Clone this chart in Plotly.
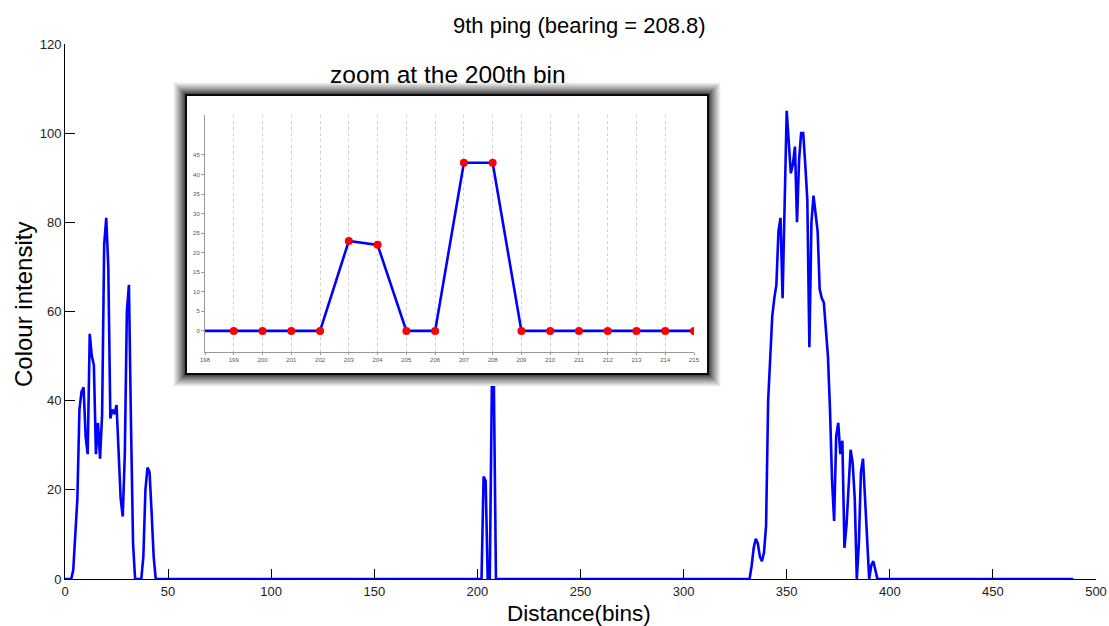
import plotly.graph_objects as go

# ---------------- data ----------------
n_bins = 490
left_start = 3
left_vals = [0, 2, 10, 18, 38, 42, 43, 32, 28, 55, 50, 48, 28, 35, 27, 37, 75, 81, 70,
             36, 38, 37, 39, 30, 18, 14, 28, 60, 66, 35, 8, 0, 0, 0, 0, 5, 20, 25, 24,
             15, 5, 0]
mid_start = 202
mid_vals = [0, 23, 22, 0, 0, 43, 43, 0]
right_start = 332
right_vals = [0, 3, 7, 9, 8, 5, 4, 6, 12, 40, 51, 59, 63, 66, 78, 81, 63, 88, 105, 98,
              91, 93, 97, 80, 94, 100, 100, 93, 85, 52, 80, 86, 82, 78, 65, 63, 62, 55,
              50, 38, 22, 13, 32, 35, 28, 31, 7, 12, 22, 29, 26, 18, 0, 8, 24, 27, 18,
              8, 0, 3, 4, 2, 0]

bins = list(range(n_bins))
intensity = [0] * n_bins
for start, vals in ((left_start, left_vals), (mid_start, mid_vals), (right_start, right_vals)):
    for i, v in enumerate(vals):
        intensity[start + i] = v

zoom_first, zoom_last = 198, 215
zoom_bins = list(range(zoom_first, zoom_last + 1))
zoom_vals = intensity[zoom_first:zoom_last + 1]

x_ticks = list(range(0, 501, 50))
y_ticks = list(range(0, 121, 20))
zoom_y_ticks = list(range(0, 46, 5))

title_text = "9th ping (bearing = 208.8)"
inset_title = "zoom at the 200th bin"
x_title = "Distance(bins)"
y_title = "Colour intensity"

# ---------------- layout helpers ----------------
W, H = 1109, 626
L, R, T, B = 65, 13, 44, 47
PW = W - L - R
PH = H - T - B


def px(xp):
    return (xp - L) / PW


def py(yp):
    return (H - B - yp) / PH


fig = go.Figure()

fig.add_trace(go.Scatter(x=bins, y=intensity, mode="lines",
                         line=dict(color="#0000FF", width=2.6),
                         xaxis="x", yaxis="y", showlegend=False, hoverinfo="x+y"))

# inset
fig.add_trace(go.Scatter(x=zoom_bins, y=zoom_vals, mode="lines",
                         line=dict(color="#0000FF", width=2.6),
                         xaxis="x2", yaxis="y2", showlegend=False))
fig.add_trace(go.Scatter(x=zoom_bins[1:], y=zoom_vals[1:], mode="markers",
                         marker=dict(color="#FF0000", size=8),
                         xaxis="x2", yaxis="y2", showlegend=False))

shapes = []
# soft shadow around the inset frame
ix0, ix1, iy0, iy1 = 187, 707, 96, 373
steps = 14
for d in range(steps, 0, -1):
    t = (d - 1) / (steps - 1)
    g = int(25 + (248 - 25) * (t ** 0.8))
    shapes.append(dict(type="rect", xref="paper", yref="paper",
                       x0=px(ix0 - d), x1=px(ix1 + d), y0=py(iy1 + d), y1=py(iy0 - d),
                       line=dict(width=0), fillcolor=f"rgb({g},{g},{g})", layer="below"))
# thin black frame
shapes.append(dict(type="rect", xref="paper", yref="paper",
                   x0=px(ix0 - 2), x1=px(ix1 + 2), y0=py(iy1 + 2), y1=py(iy0 - 2),
                   line=dict(width=0), fillcolor="#080808", layer="below"))
# white inner area
shapes.append(dict(type="rect", xref="paper", yref="paper",
                   x0=px(ix0), x1=px(ix1), y0=py(iy1), y1=py(iy0),
                   line=dict(width=0), fillcolor="#ffffff", layer="below"))

fig.update_layout(
    width=W, height=H,
    margin=dict(l=L, r=R, t=T, b=B, autoexpand=False),
    paper_bgcolor="white", plot_bgcolor="white",
    font=dict(family="Arial, Liberation Sans, sans-serif", color="#222222"),
    shapes=shapes,
    xaxis=dict(range=[0, 500], tickvals=x_ticks, ticks="inside", ticklen=10,
               tickcolor="black", showline=True, linecolor="black", linewidth=1,
               showgrid=False, zeroline=False, tickfont=dict(size=13), domain=[0, 1],
               anchor="y", automargin=False),
    yaxis=dict(range=[0, 120], tickvals=y_ticks, ticks="inside", ticklen=10,
               tickcolor="black", showline=True, linecolor="black", linewidth=1,
               showgrid=False, zeroline=False, tickfont=dict(size=13), domain=[0, 1],
               anchor="x", automargin=False),
    xaxis2=dict(range=[zoom_first, zoom_last], tickvals=zoom_bins, domain=[px(205), px(694)],
                anchor="y2", showline=True, linecolor="#999999", linewidth=1,
                showgrid=True, gridcolor="#d0d0d0", griddash="dot", gridwidth=1,
                zeroline=False, ticks="outside", ticklen=2, tickcolor="#999999",
                tickfont=dict(size=6, color="#555555"), automargin=False),
    yaxis2=dict(range=[-5.4, 55.2], tickvals=zoom_y_ticks, domain=[py(352), py(115)],
                anchor="x2", showline=True, linecolor="#999999", linewidth=1,
                showgrid=False, zeroline=False, ticks="outside", ticklen=3,
                tickcolor="#999999", tickfont=dict(size=6, color="#555555"),
                automargin=False),
    annotations=[
        dict(text=title_text, xref="paper", yref="paper", x=px(579), y=py(25),
             showarrow=False, font=dict(size=22, color="black"), xanchor="center",
             yanchor="middle"),
        dict(text=inset_title, xref="paper", yref="paper", x=px(448), y=py(74),
             showarrow=False, font=dict(size=24.5, color="black"), xanchor="center",
             yanchor="middle"),
        dict(text=x_title, xref="paper", yref="paper", x=px(579), y=py(613),
             showarrow=False, font=dict(size=22.5, color="black"), xanchor="center",
             yanchor="middle"),
        dict(text=y_title, xref="paper", yref="paper", x=px(23), y=py(305),
             showarrow=False, font=dict(size=24, color="black"), textangle=-90,
             xanchor="center", yanchor="middle"),
    ],
)

fig.write_html("out.html", config={"displayModeBar": False},
               post_script="document.body.style.margin='0';document.body.style.overflow='hidden';")
